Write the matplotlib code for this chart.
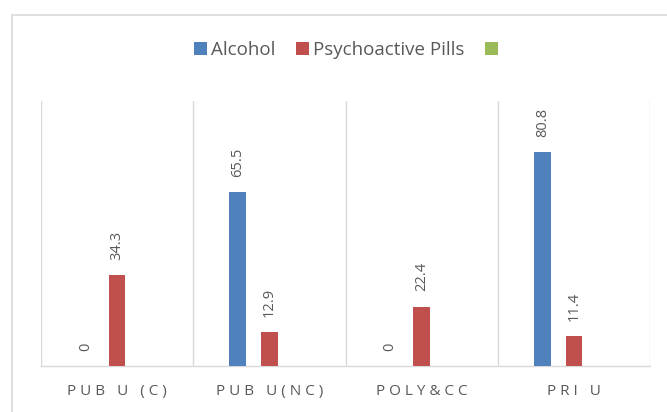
import numpy as np
import matplotlib.pyplot as plt
from matplotlib.patches import Rectangle, Patch

categories = ['PUB U (C)', 'PUB U(NC)', 'POLY&CC', 'PRI U']
alcohol = [0, 65.5, 0, 80.8]
pills = [34.3, 12.9, 22.4, 11.4]
series_names = ['Alcohol', 'Psychoactive Pills', '']
colors = ['#4F81BD', '#C0504D', '#9BBB59']

plt.rcParams['font.family'] = ['Open Sans', 'DejaVu Sans']

fig = plt.figure(figsize=(6.67, 4.12), dpi=100)
ax = fig.add_axes([41 / 667, 46 / 412, 609 / 667, 265 / 412])

# chart frame, cut off at the right and bottom edges
fig.patches.append(Rectangle((12 / 667, -0.1), 1.2, 1.1 - 15 / 412,
                             transform=fig.transFigure, fill=False,
                             edgecolor='#D9D9D9', linewidth=1.2))

x = np.arange(len(categories))
w = 0.11
step = 0.207
label_color = '#595959'

for i, (vals, c) in enumerate([(alcohol, colors[0]), (pills, colors[1])]):
    pos = x + (i - 1) * step
    ax.bar(pos, vals, width=w, color=c, zorder=3)
    for p, v in zip(pos, vals):
        ax.annotate(f'{v:g}', (p, v), xytext=(0, 11), textcoords='offset points',
                    rotation=90, ha='center', va='bottom', fontsize=10.5,
                    color=label_color)

ax.set_xlim(-0.5, len(categories) - 0.5)
ax.set_ylim(0, 100)
ax.set_yticks([])

for b in np.arange(-0.5, len(categories), 1.0):
    ax.axvline(b, color='#D9D9D9', linewidth=1, zorder=1)

for s in ['top', 'left', 'right']:
    ax.spines[s].set_visible(False)
ax.spines['bottom'].set_color('#D9D9D9')
ax.spines['bottom'].set_linewidth(1)

ax.set_xticks(x)
ax.set_xticklabels([' '.join(c) for c in categories], fontsize=11, color=label_color)
ax.tick_params(axis='x', length=0, pad=13)

handles = [Patch(facecolor=c, edgecolor='none') for c in colors]
fig.legend(handles, series_names, loc='center', bbox_to_anchor=(348 / 667, 1 - 50 / 412),
           ncol=3, frameon=False, fontsize=13.5, handlelength=0.7, handleheight=0.7,
           handletextpad=0.2, columnspacing=1.1, labelcolor=label_color)

fig.savefig('out.png', dpi=100)
